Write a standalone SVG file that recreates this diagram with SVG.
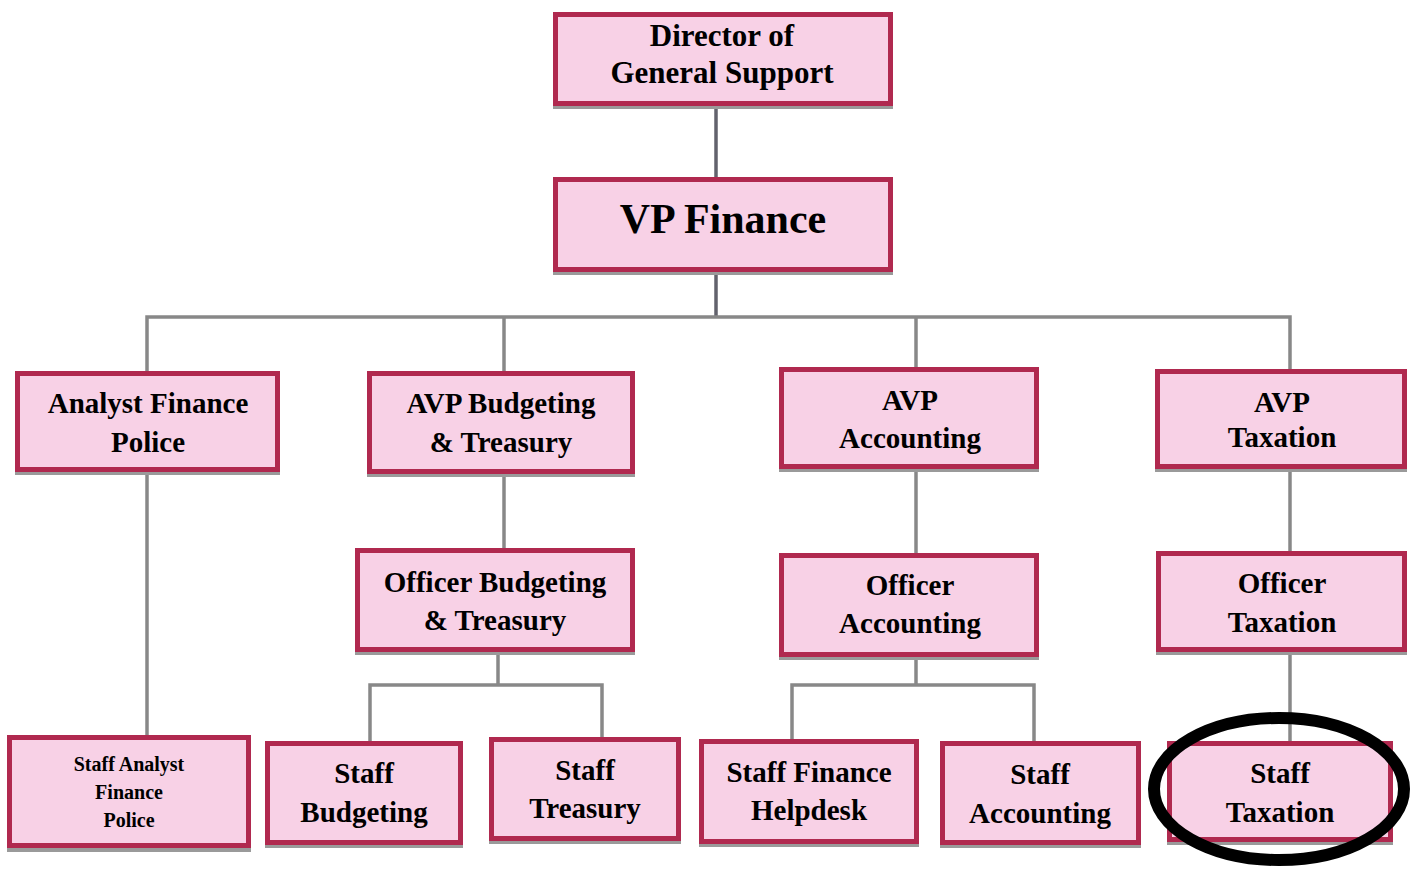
<svg xmlns="http://www.w3.org/2000/svg" width="1419" height="869" viewBox="0 0 1419 869">
  <style>
    .shadow { fill: #9a9a9a; }
    .box { fill: #F8D1E6; stroke: #B0294F; stroke-width: 5; }
    .lbl { font-family: "Liberation Serif", "Times New Roman", serif; font-weight: bold; fill: #000; text-anchor: middle; font-size: 29px; }
    .big { font-size: 42px; }
    .dir { font-size: 31px; }
    .small { font-size: 20px; }
    .link { stroke: #888; stroke-width: 3.5; fill: none; }
    .link.dark { stroke: #62626c; }
  </style>

  <!-- connectors -->
  <g id="connectors">
    <line class="link dark" x1="716" y1="106" x2="716" y2="177"/>
    <line class="link dark" x1="716" y1="272" x2="716" y2="317"/>
    <polyline class="link" points="147,371 147,317 1290,317 1290,369"/>
    <line class="link" x1="504" y1="317" x2="504" y2="371"/>
    <line class="link" x1="916" y1="317" x2="916" y2="367"/>
    <line class="link" x1="147" y1="472" x2="147" y2="735"/>
    <line class="link" x1="504" y1="474" x2="504" y2="548"/>
    <line class="link" x1="916" y1="469" x2="916" y2="553"/>
    <line class="link" x1="1290" y1="469" x2="1290" y2="551"/>
    <line class="link" x1="498" y1="652" x2="498" y2="685"/>
    <polyline class="link" points="370,741 370,685 602,685 602,737"/>
    <line class="link" x1="916" y1="657" x2="916" y2="685"/>
    <polyline class="link" points="792,739 792,685 1034,685 1034,741"/>
    <line class="link" x1="1290" y1="652" x2="1290" y2="741"/>
  </g>

  <g id="director">
    <rect class="shadow" x="553" y="15" width="340" height="94"/>
    <rect class="box" x="555.5" y="14.5" width="335" height="89"/>
    <text class="lbl dir" x="722" y="46">Director of</text>
    <text class="lbl dir" x="722" y="83">General Support</text>
  </g>

  <g id="vp-finance">
    <rect class="shadow" x="553" y="180" width="340" height="95"/>
    <rect class="box" x="555.5" y="179.5" width="335" height="90"/>
    <text class="lbl big" x="723" y="233">VP Finance</text>
  </g>

  <g id="analyst-finance-police">
    <rect class="shadow" x="15" y="374" width="265" height="101"/>
    <rect class="box" x="17.5" y="373.5" width="260" height="96"/>
    <text class="lbl" x="148" y="413">Analyst Finance</text>
    <text class="lbl" x="148" y="452">Police</text>
  </g>

  <g id="avp-budgeting">
    <rect class="shadow" x="367" y="374" width="268" height="103"/>
    <rect class="box" x="369.5" y="373.5" width="263" height="98"/>
    <text class="lbl" x="501" y="413">AVP Budgeting</text>
    <text class="lbl" x="501" y="452">&amp; Treasury</text>
  </g>

  <g id="avp-accounting">
    <rect class="shadow" x="779" y="370" width="260" height="102"/>
    <rect class="box" x="781.5" y="369.5" width="255" height="97"/>
    <text class="lbl" x="910" y="410">AVP</text>
    <text class="lbl" x="910" y="448">Accounting</text>
  </g>

  <g id="avp-taxation">
    <rect class="shadow" x="1155" y="372" width="252" height="100"/>
    <rect class="box" x="1157.5" y="371.5" width="247" height="95"/>
    <text class="lbl" x="1282" y="412">AVP</text>
    <text class="lbl" x="1282" y="447">Taxation</text>
  </g>

  <g id="officer-budgeting">
    <rect class="shadow" x="355" y="551" width="280" height="104"/>
    <rect class="box" x="357.5" y="550.5" width="275" height="99"/>
    <text class="lbl" x="495" y="592">Officer Budgeting</text>
    <text class="lbl" x="495" y="630">&amp; Treasury</text>
  </g>

  <g id="officer-accounting">
    <rect class="shadow" x="779" y="556" width="260" height="104"/>
    <rect class="box" x="781.5" y="555.5" width="255" height="99"/>
    <text class="lbl" x="910" y="595">Officer</text>
    <text class="lbl" x="910" y="633">Accounting</text>
  </g>

  <g id="officer-taxation">
    <rect class="shadow" x="1156" y="554" width="251" height="101"/>
    <rect class="box" x="1158.5" y="553.5" width="246" height="96"/>
    <text class="lbl" x="1282" y="593">Officer</text>
    <text class="lbl" x="1282" y="632">Taxation</text>
  </g>

  <g id="staff-analyst">
    <rect class="shadow" x="7" y="738" width="244" height="114"/>
    <rect class="box" x="9.5" y="737.5" width="239" height="108"/>
    <text class="lbl small" x="129" y="771">Staff Analyst</text>
    <text class="lbl small" x="129" y="799">Finance</text>
    <text class="lbl small" x="129" y="827">Police</text>
  </g>

  <g id="staff-budgeting">
    <rect class="shadow" x="265" y="744" width="198" height="104"/>
    <rect class="box" x="267.5" y="743.5" width="193" height="99"/>
    <text class="lbl" x="364" y="783">Staff</text>
    <text class="lbl" x="364" y="822">Budgeting</text>
  </g>

  <g id="staff-treasury">
    <rect class="shadow" x="489" y="740" width="192" height="104"/>
    <rect class="box" x="491.5" y="739.5" width="187" height="99"/>
    <text class="lbl" x="585" y="780">Staff</text>
    <text class="lbl" x="585" y="818">Treasury</text>
  </g>

  <g id="staff-helpdesk">
    <rect class="shadow" x="699" y="742" width="220" height="105"/>
    <rect class="box" x="701.5" y="741.5" width="215" height="100"/>
    <text class="lbl" x="809" y="782">Staff Finance</text>
    <text class="lbl" x="809" y="820">Helpdesk</text>
  </g>

  <g id="staff-accounting">
    <rect class="shadow" x="940" y="744" width="201" height="104"/>
    <rect class="box" x="942.5" y="743.5" width="196" height="99"/>
    <text class="lbl" x="1040" y="784">Staff</text>
    <text class="lbl" x="1040" y="823">Accounting</text>
  </g>

  <g id="staff-taxation">
    <rect class="shadow" x="1167" y="744" width="226" height="101"/>
    <rect class="box" x="1169.5" y="743.5" width="221" height="96"/>
    <text class="lbl" x="1280" y="783">Staff</text>
    <text class="lbl" x="1280" y="822">Taxation</text>
  </g>

  <!-- highlight ring -->
  <ellipse id="highlight" cx="1279" cy="789" rx="125" ry="71" fill="none" stroke="#000" stroke-width="12"/>
</svg>
